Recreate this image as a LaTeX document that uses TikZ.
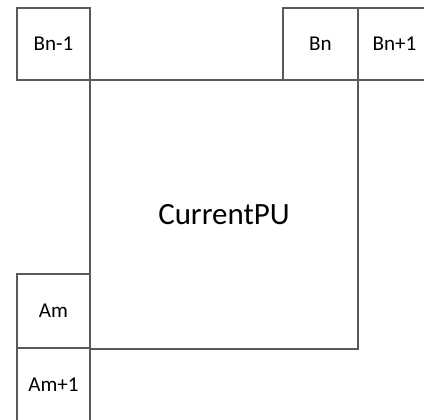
\documentclass[tikz,border=0pt]{standalone}
\usepackage{fontspec}
\setmainfont{Carlito}
\begin{document}
\begin{tikzpicture}[x=0.025cm,y=-0.025cm]
\tikzset{blk/.style={draw=black!65, line width=1.3pt, inner sep=0pt,
  minimum width=1.825cm, minimum height=1.8cm, font=\fontsize{15}{18}\selectfont}}

\useasboundingbox (0,0) rectangle (424,420);
\clip (0,0) rectangle (424,420);

\node(cur)[blk, minimum width=6.7cm, minimum height=6.725cm,
  font=\fontsize{22}{26}\selectfont] at (224,214.5) {CurrentPU};

\node(bnm)[blk] at (53.5,44) {Bn-1};
\node(bn)[blk, minimum width=1.875cm] at (320.5,44) {Bn};
\node(bnp)[blk] at (394.5,44) {Bn+1};

\node(am)[blk, minimum height=1.85cm] at (53.5,311) {Am};
\node(amp)[blk, minimum height=1.85cm] at (53.5,385) {Am+1};

\end{tikzpicture}
\end{document}
